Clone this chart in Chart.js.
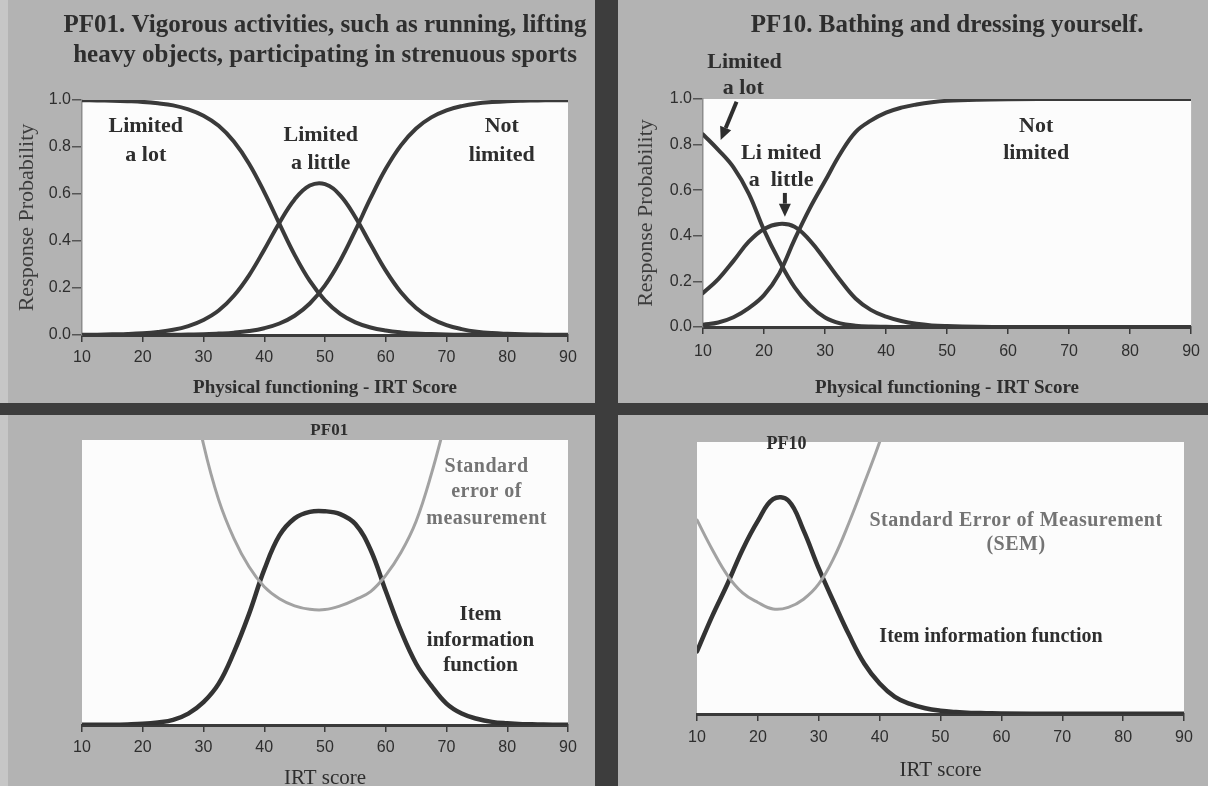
<!DOCTYPE html>
<html><head><meta charset="utf-8">
<script src="https://cdn.jsdelivr.net/npm/chart.js@4.4.1/dist/chart.umd.min.js"></script>
<style>
html,body{margin:0;padding:0;}
body{width:1208px;height:786px;overflow:hidden;position:relative;background:#b3b3b3;}
canvas{position:absolute;}
.bar{position:absolute;background:#3d3d3d;}
</style></head><body>
<div style="position:absolute;left:0;top:0;width:8px;height:786px;background:#c6c6c6"></div>
<div class="bar" style="left:595px;top:0;width:23px;height:786px"></div>
<div class="bar" style="left:0;top:403px;width:1208px;height:12px"></div>
<canvas id="c1" width="595" height="403" style="left:0;top:0"></canvas>
<canvas id="c2" width="590" height="403" style="left:618px;top:0"></canvas>
<canvas id="c3" width="595" height="390" style="left:0;top:415px"></canvas>
<canvas id="c4" width="590" height="390" style="left:618px;top:415px"></canvas>
<script>
// ---------- data ----------
const scoreTicks = [10, 20, 30, 40, 50, 60, 70, 80, 90];
const probTicks = [0, 0.2, 0.4, 0.6, 0.8, 1.0];

// PF01 category response curves
const pf01Score = [10,12.5,15,17.5,20,22.5,25,27.5,30,32.5,35,37.5,40,42.5,45,47.5,50,52.5,55,57.5,60,62.5,65,67.5,70,72.5,75,77.5,80,82.5,85,87.5,90];
const pf01LimitedLot    = [0.999,0.998,0.997,0.995,0.992,0.986,0.977,0.960,0.933,0.890,0.823,0.729,0.608,0.473,0.341,0.230,0.147,0.090,0.054,0.032,0.019,0.011,0.006,0.004,0.002,0.001,0.001,0,0,0,0,0,0];
const pf01LimitedLittle = [0.001,0.0015,0.003,0.0045,0.0075,0.013,0.022,0.038,0.064,0.104,0.167,0.254,0.363,0.478,0.577,0.636,0.642,0.594,0.501,0.386,0.274,0.182,0.115,0.070,0.042,0.025,0.014,0.008,0.005,0.003,0.002,0.001,0.001];
const pf01NotLimited    = [0,0,0,0,0,0,0.001,0.002,0.003,0.006,0.010,0.017,0.029,0.049,0.082,0.134,0.211,0.316,0.445,0.582,0.707,0.807,0.879,0.926,0.956,0.974,0.985,0.991,0.995,0.997,0.998,0.999,0.999];

// PF10 category response curves
const pf10Score = [10,12.5,15,17.5,20,22.5,25,27.5,30,32.5,35,37.5,40,42.5,45,47.5,50,55,60,70,80,90];
const pf10LimitedLot    = [0.845,0.777,0.700,0.585,0.425,0.290,0.175,0.095,0.042,0.016,0.006,0.002,0.001,0,0,0,0,0,0,0,0,0];
const pf10LimitedLittle = [0.149,0.210,0.290,0.374,0.430,0.452,0.440,0.380,0.295,0.205,0.125,0.075,0.045,0.026,0.014,0.007,0.004,0.001,0,0,0,0];
const pf10NotLimited    = [0.010,0.020,0.043,0.083,0.140,0.235,0.383,0.520,0.640,0.760,0.855,0.905,0.940,0.962,0.976,0.986,0.992,0.997,0.999,1,1,1];

// PF01 information / SEM (relative height of plot)
const pf01Information = [0.001,0.001,0.001,0.002,0.004,0.009,0.018,0.040,0.080,0.145,0.255,0.390,0.545,0.665,0.725,0.748,0.750,0.740,0.705,0.615,0.470,0.330,0.215,0.138,0.075,0.040,0.022,0.011,0.006,0.003,0.002,0.001,0.001];
const pf01SemScore = [27.5,30,32.5,35,37.5,40,42.5,45,47.5,50,52.5,55,57.5,60,62.5,65,67.5,70,72.5];
const pf01Sem      = [1.25,0.985,0.79,0.655,0.555,0.485,0.443,0.418,0.406,0.405,0.418,0.44,0.468,0.525,0.605,0.715,0.88,1.08,1.3];

// PF10 information / SEM
const pf10InfoScore = [10,12.5,15,17.5,20,22.5,25,27.5,30,32.5,35,37.5,40,42.5,45,47.5,50,52.5,55,57.5,60,70,80,90];
const pf10Information = [0.23,0.36,0.478,0.605,0.71,0.79,0.785,0.675,0.535,0.41,0.29,0.185,0.112,0.063,0.037,0.021,0.012,0.007,0.004,0.003,0.002,0.001,0.001,0.001];
const pf10SemScore = [10,12.5,15,17.5,20,22.5,25,27.5,30,32.5,35,37.5,40,42.5];
const pf10Sem      = [0.713,0.605,0.51,0.445,0.41,0.386,0.392,0.422,0.478,0.575,0.705,0.85,1.0,1.17];

// ---------- styling helpers ----------
const SERIF = '"Liberation Serif","Times New Roman",serif';
const SANS = '"Liberation Sans",Arial,sans-serif';
const INK = '#2e2e2e';
const SEMGRAY = '#a2a2a2';
const SEMTEXT = '#747474';

function pts(xs, ys) { return xs.map((x, i) => ({x: x, y: ys[i]})); }
function lineDS(xs, ys, color, width) {
  return {data: pts(xs, ys), borderColor: color, borderWidth: width, pointRadius: 0,
          fill: false, tension: 0.4, borderCapStyle: 'round', borderJoinStyle: 'round'};
}
function xScale(o) {
  return {
    type: 'linear', min: 10, max: 90,
    afterBuildTicks: s => { s.ticks = scoreTicks.map(v => ({value: v})); },
    afterFit: s => { s.height = o.height; },
    grid: {drawOnChartArea: false, drawTicks: true, tickLength: 7, color: '#3a3a3a', lineWidth: 1.5},
    border: {display: true, color: '#3a3a3a', width: 3},
    ticks: {padding: o.pad, color: '#2e2e2e', font: {family: SANS, size: 16}, maxRotation: 0, autoSkip: false},
    title: {display: true, text: o.title, color: INK,
            font: {family: SERIF, size: o.tsize, weight: o.tweight}, padding: {top: 0, bottom: o.tpad}}
  };
}
function yProb(width, tpad) {
  return {
    type: 'linear', min: 0, max: 1,
    afterBuildTicks: s => { s.ticks = probTicks.map(v => ({value: v})); },
    afterFit: s => { s.width = width; },
    grid: {drawOnChartArea: false, drawTicks: true, tickLength: 10, color: '#555', lineWidth: 1.5},
    border: {display: true, color: '#8c8c8c', width: 1.5},
    ticks: {padding: 1, color: '#2e2e2e', font: {family: SANS, size: 16}, callback: v => Number(v).toFixed(1)},
    title: {display: true, text: 'Response Probability', color: '#3c3c3c',
            font: {family: SERIF, size: 22}, padding: {top: tpad, bottom: 0}}
  };
}
function yHidden() { return {type: 'linear', min: 0, max: 1, display: false}; }

const decor = {
  id: 'decor',
  beforeDraw(chart) {
    const {ctx, chartArea: a} = chart;
    ctx.save();
    ctx.fillStyle = '#fcfcfc';
    ctx.fillRect(a.left, a.top, a.right - a.left, a.bottom - a.top);
    ctx.restore();
  },
  afterDraw(chart, args, o) {
    const {ctx, chartArea: a} = chart;
    const xs = chart.scales.x, ys = chart.scales.y;
    ctx.save();
    for (const t of (o.titles || [])) {
      ctx.font = t.font; ctx.fillStyle = t.color || INK;
      ctx.textAlign = 'center'; ctx.textBaseline = 'alphabetic';
      ctx.fillText(t.text, (a.left + a.right) / 2, t.y);
    }
    for (const l of (o.labels || [])) {
      ctx.font = l.font; ctx.fillStyle = l.color || INK;
      ctx.textAlign = 'center'; ctx.textBaseline = 'middle';
      ctx.letterSpacing = l.spacing || '0px';
      ctx.fillText(l.text, xs.getPixelForValue(l.x), ys.getPixelForValue(l.y));
    }
    ctx.letterSpacing = '0px';
    for (const r of (o.arrows || [])) {
      const x1 = xs.getPixelForValue(r.from[0]), y1 = ys.getPixelForValue(r.from[1]);
      const x2 = xs.getPixelForValue(r.to[0]), y2 = ys.getPixelForValue(r.to[1]);
      const ang = Math.atan2(y2 - y1, x2 - x1), head = 13, half = 6;
      const hx = x2 - head * Math.cos(ang), hy = y2 - head * Math.sin(ang);
      ctx.strokeStyle = INK; ctx.fillStyle = INK; ctx.lineWidth = 4;
      ctx.beginPath(); ctx.moveTo(x1, y1); ctx.lineTo(hx, hy); ctx.stroke();
      ctx.beginPath(); ctx.moveTo(x2, y2);
      ctx.lineTo(hx + half * Math.sin(ang), hy - half * Math.cos(ang));
      ctx.lineTo(hx - half * Math.sin(ang), hy + half * Math.cos(ang));
      ctx.closePath(); ctx.fill();
    }
    ctx.restore();
  }
};

const base = {responsive: false, animation: false, devicePixelRatio: 1, events: []};
const LBL = 'bold 22px ' + SERIF;
const CURVE = '#3a3a3a';

// ---------- PF01 response curves ----------
new Chart(document.getElementById('c1'), {
  type: 'line',
  data: {datasets: [
    lineDS(pf01Score, pf01LimitedLot, CURVE, 4),
    lineDS(pf01Score, pf01LimitedLittle, CURVE, 4),
    lineDS(pf01Score, pf01NotLimited, CURVE, 4)
  ]},
  options: Object.assign({}, base, {
    layout: {padding: {left: 0, top: 100, right: 27, bottom: 0}},
    scales: {
      x: xScale({height: 68, pad: 6, title: 'Physical functioning - IRT Score', tsize: 19, tweight: 'bold', tpad: 4}),
      y: yProb(82, 14)
    },
    plugins: {legend: {display: false}, tooltip: {enabled: false},
      decor: {
        titles: [
          {text: 'PF01. Vigorous activities, such as running, lifting', y: 32, font: 'bold 25px ' + SERIF},
          {text: 'heavy objects, participating in strenuous sports', y: 62, font: 'bold 25px ' + SERIF}
        ],
        labels: [
          {text: 'Limited', x: 20.5, y: 0.887, font: LBL},
          {text: 'a lot', x: 20.5, y: 0.764, font: LBL},
          {text: 'Limited', x: 49.3, y: 0.849, font: LBL},
          {text: 'a little', x: 49.3, y: 0.730, font: LBL},
          {text: 'Not', x: 79.1, y: 0.888, font: LBL},
          {text: 'limited', x: 79.1, y: 0.764, font: LBL}
        ]
      }
    }
  }),
  plugins: [decor]
});

// ---------- PF10 response curves ----------
new Chart(document.getElementById('c2'), {
  type: 'line',
  data: {datasets: [
    lineDS(pf10Score, pf10LimitedLot, CURVE, 4),
    lineDS(pf10Score, pf10LimitedLittle, CURVE, 4),
    lineDS(pf10Score, pf10NotLimited, CURVE, 4)
  ]},
  options: Object.assign({}, base, {
    layout: {padding: {left: 0, top: 99, right: 16, bottom: 0}},
    scales: {
      x: xScale({height: 76, pad: 8, title: 'Physical functioning - IRT Score', tsize: 19, tweight: 'bold', tpad: 4}),
      y: yProb(85, 15)
    },
    plugins: {legend: {display: false}, tooltip: {enabled: false},
      decor: {
        titles: [
          {text: 'PF10. Bathing and dressing yourself.', y: 32, font: 'bold 25px ' + SERIF}
        ],
        labels: [
          {text: 'Limited', x: 16.8, y: 1.163, font: LBL},
          {text: 'a lot', x: 16.6, y: 1.046, font: LBL},
          {text: 'Li mited', x: 22.8, y: 0.762, font: LBL},
          {text: 'a  little', x: 22.8, y: 0.645, font: LBL},
          {text: 'Not', x: 64.6, y: 0.879, font: LBL},
          {text: 'limited', x: 64.6, y: 0.762, font: LBL}
        ],
        arrows: [
          {from: [15.5, 0.988], to: [12.9, 0.82]},
          {from: [23.42, 0.588], to: [23.42, 0.484]}
        ]
      }
    }
  }),
  plugins: [decor]
});

// ---------- PF01 information ----------
new Chart(document.getElementById('c3'), {
  type: 'line',
  data: {datasets: [
    lineDS(pf01SemScore, pf01Sem, SEMGRAY, 3),
    lineDS(pf01Score, pf01Information, '#333', 4.5)
  ]},
  options: Object.assign({}, base, {
    layout: {padding: {left: 82, top: 25, right: 27, bottom: 0}},
    scales: {
      x: xScale({height: 80, pad: 6, title: 'IRT score', tsize: 21, tweight: 'normal', tpad: 14}),
      y: yHidden()
    },
    plugins: {legend: {display: false}, tooltip: {enabled: false},
      decor: {
        labels: [
          {text: 'PF01', x: 50.7, y: 1.032, font: 'bold 17px ' + SERIF},
          {text: 'Standard', x: 76.6, y: 0.905, font: 'bold 20px ' + SERIF, color: SEMTEXT, spacing: '0.5px'},
          {text: 'error of', x: 76.6, y: 0.818, font: 'bold 20px ' + SERIF, color: SEMTEXT, spacing: '0.5px'},
          {text: 'measurement', x: 76.6, y: 0.723, font: 'bold 20px ' + SERIF, color: SEMTEXT, spacing: '0.5px'},
          {text: 'Item', x: 75.6, y: 0.389, font: 'bold 21px ' + SERIF},
          {text: 'information', x: 75.6, y: 0.295, font: 'bold 21px ' + SERIF},
          {text: 'function', x: 75.6, y: 0.207, font: 'bold 21px ' + SERIF}
        ]
      }
    }
  }),
  plugins: [decor]
});

// ---------- PF10 information ----------
new Chart(document.getElementById('c4'), {
  type: 'line',
  data: {datasets: [
    lineDS(pf10SemScore, pf10Sem, SEMGRAY, 3),
    lineDS(pf10InfoScore, pf10Information, '#333', 4.5)
  ]},
  options: Object.assign({}, base, {
    layout: {padding: {left: 79, top: 27, right: 24, bottom: 0}},
    scales: {
      x: xScale({height: 91, pad: 7, title: 'IRT score', tsize: 21, tweight: 'normal', tpad: 22}),
      y: yHidden()
    },
    plugins: {legend: {display: false}, tooltip: {enabled: false},
      decor: {
        labels: [
          {text: 'PF10', x: 24.7, y: 0.993, font: 'bold 18px ' + SERIF},
          {text: 'Standard Error of Measurement', x: 62.4, y: 0.71, font: 'bold 20px ' + SERIF, color: SEMTEXT, spacing: '0.5px'},
          {text: '(SEM)', x: 62.4, y: 0.621, font: 'bold 20px ' + SERIF, color: SEMTEXT, spacing: '0.5px'},
          {text: 'Item information function', x: 58.3, y: 0.283, font: 'bold 20px ' + SERIF}
        ]
      }
    }
  }),
  plugins: [decor]
});
</script>
</body></html>
